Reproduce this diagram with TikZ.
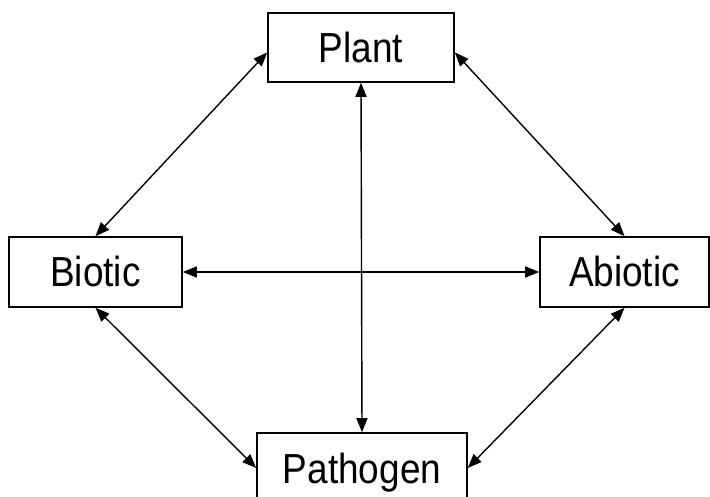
\documentclass[tikz,border=0pt]{standalone}
\usepackage{fontspec}
\setmainfont{Liberation Sans}
\usetikzlibrary{arrows.meta}
\begin{document}
\begin{tikzpicture}[x=1pt,y=-1pt,
  box/.style={draw, line width=1.6pt, fill=white, inner sep=0pt,
    font=\fontsize{42}{42}\selectfont, text height=30pt, text depth=0pt},
  link/.style={line width=1.4pt, {Triangle[length=14pt,width=11pt]}-{Triangle[length=14pt,width=11pt]}}]
\clip (0,0) rectangle (710,497);
\useasboundingbox (0,0) rectangle (710,497);
\fill[white] (0,0) rectangle (710,497);
\node[box, minimum width=186pt, minimum height=69pt] (plant) at (361,47.5) {\scalebox{0.88}[1]{Plant}};
\node[box, minimum width=173pt, minimum height=70pt] (biotic) at (95.5,272) {\scalebox{0.88}[1]{Biotic}};
\node[box, minimum width=169pt, minimum height=70pt] (abiotic) at (624.5,272) {\scalebox{0.88}[1]{Abiotic}};
\node[box, minimum width=210pt, minimum height=70pt] (pathogen) at (362,468) {\scalebox{0.88}[1]{Pathogen}};
\draw[link] (plant.south) -- (pathogen.north);
\draw[link] (biotic.east) -- (abiotic.west);
\draw[link] (plant.183) -- (biotic.north);
\draw[link] (plant.-3) -- (abiotic.north);
\draw[link] (biotic.south) -- (pathogen.west);
\draw[link] (abiotic.south) -- (pathogen.east);
\end{tikzpicture}
\end{document}
